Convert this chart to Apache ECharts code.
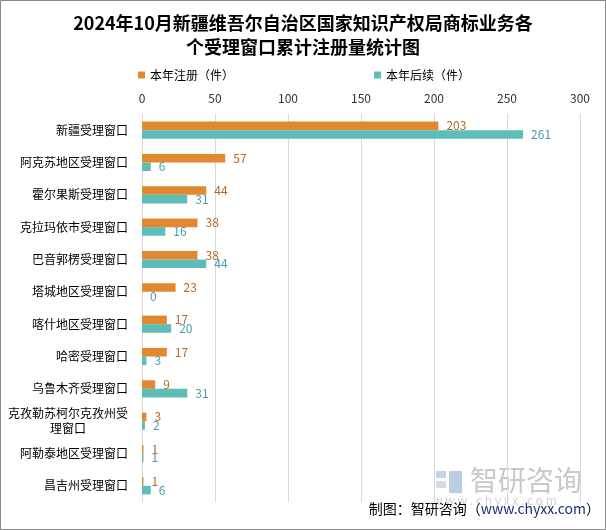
<!DOCTYPE html>
<html>
<head>
<meta charset="utf-8">
<script src="https://cdn.jsdelivr.net/npm/echarts@6/dist/echarts.min.js"></script>
<style>html,body{margin:0;padding:0;background:#fff}#c{width:606px;height:530px}</style>
</head>
<body>
<div id="c"></div>
<script>
var categories = ['新疆受理窗口','阿克苏地区受理窗口','霍尔果斯受理窗口','克拉玛依市受理窗口','巴音郭楞受理窗口','塔城地区受理窗口','喀什地区受理窗口','哈密受理窗口','乌鲁木齐受理窗口','克孜勒苏柯尔克孜州受理窗口','阿勒泰地区受理窗口','昌吉州受理窗口'];
var seriesNames = ['本年注册（件）','本年后续（件）'];
var registered = [203,57,44,38,38,23,17,17,9,3,1,1];
var followUp = [261,6,31,16,44,0,20,3,31,2,1,6];
var xTicks = [0,50,100,150,200,250,300];

var FONT = '"Noto Sans CJK SC", "Noto Sans", sans-serif';
var chart = echarts.init(document.getElementById('c'));
chart.setOption({
  animation: false,
  backgroundColor: '#fff',
  textStyle: {fontFamily: FONT},
  title: {
    text: '2024年10月新疆维吾尔自治区国家知识产权局商标业务各\n个受理窗口累计注册量统计图',
    left: 'center', top: 6,
    textStyle: {fontSize: 18, fontWeight: 'bold', color: '#000', lineHeight: 24, fontFamily: FONT}
  },
  legend: {
    top: 64, left: 133,
    itemWidth: 7, itemHeight: 7, itemGap: 140,
    icon: 'rect',
    textStyle: {fontSize: 12, color: '#000', fontFamily: FONT},
    data: seriesNames
  },
  grid: {left: 142, top: 114, width: 438, height: 388, containLabel: false},
  xAxis: {
    type: 'value', position: 'top', min: xTicks[0], max: xTicks[xTicks.length-1], interval: 50,
    axisLine: {show: false}, axisTick: {show: false},
    axisLabel: {fontSize: 12, color: '#333', margin: 10, fontFamily: FONT},
    splitLine: {lineStyle: {color: '#d9d9d9', width: 1}}
  },
  yAxis: {
    type: 'category', inverse: true, data: categories,
    axisTick: {show: false},
    axisLine: {show: true, lineStyle: {color: '#d9d9d9'}},
    axisLabel: {
      fontSize: 12, color: '#000', margin: 14, fontFamily: FONT,
      formatter: function (v) {
        if (v.length > 10) return '{c|' + v.slice(0, 10) + '}\n{c|' + v.slice(10) + '}';
        return v;
      },
      rich: {c: {width: 120, align: 'center', fontSize: 12, lineHeight: 15, color: '#000', fontFamily: FONT}}
    }
  },
  series: [
    {
      name: seriesNames[0], type: 'bar', data: registered,
      barGap: '0%', barCategoryGap: '47%',
      itemStyle: {color: '#E2892F'},
      label: {show: true, position: 'right', distance: 8, fontSize: 12, color: '#B56A26', fontFamily: FONT}
    },
    {
      name: seriesNames[1], type: 'bar', data: followUp,
      barGap: '0%', barCategoryGap: '47%',
      itemStyle: {color: '#5EBDB6'},
      label: {show: true, position: 'right', distance: 8, fontSize: 12, color: '#4A9AB0', fontFamily: FONT}
    }
  ],
  graphic: [
    {type: 'rect', shape: {x: 436, y: 471, width: 10, height: 7}, style: {fill: '#c5d3e6'}, silent: true},
    {type: 'rect', shape: {x: 436, y: 481, width: 10, height: 7}, style: {fill: '#d3dbe6'}, silent: true},
    {type: 'rect', shape: {x: 449, y: 471, width: 13, height: 22}, style: {fill: '#b9cce3'}, silent: true},
    {type: 'text', left: 470, top: 466, style: {text: '智研咨询', fontSize: 28, fill: '#c6c9cd', fontFamily: FONT}, silent: true},
    {type: 'text', left: 433, top: 494, style: {text: 'w w w . c h y x x . c o m', fontSize: 12, fill: '#cfd2d6', fontFamily: FONT}, silent: true},
    {type: 'text', right: 6, top: 502, style: {
      text: '{a|制图：智研咨询（}{b|www.chyxx.com}{a|）}',
      rich: {a: {fontSize: 14, fill: '#000', fontFamily: FONT}, b: {fontSize: 14, fill: '#1a2f7a', fontFamily: FONT}}
    }, silent: true},
    {type: 'rect', shape: {x: 0.5, y: 0.5, width: 605, height: 529}, style: {fill: 'none', stroke: '#888', lineWidth: 1}, silent: true}
  ]
});
</script>
</body>
</html>
